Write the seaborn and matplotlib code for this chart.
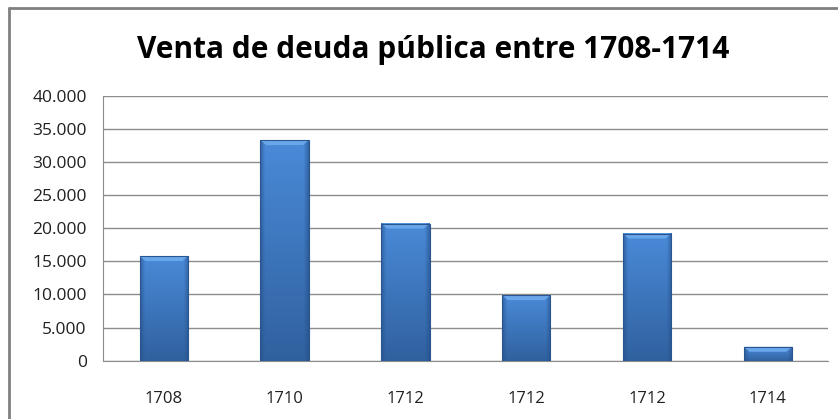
import matplotlib.pyplot as plt
import matplotlib.colors as mcolors
from matplotlib.lines import Line2D
import numpy as np
import pandas as pd
import seaborn as sns

# data
years = ["1708", "1710", "1712", "1712", "1712", "1714"]
ventas = [15800, 33300, 20700, 9900, 19200, 2100]
yticks = [0, 5000, 10000, 15000, 20000, 25000, 30000, 35000, 40000]
titulo = "Venta de deuda pública entre 1708-1714"

df = pd.DataFrame({"pos": [str(i) for i in range(len(years))], "venta": ventas})

sns.set_style("white")
plt.rcParams["font.family"] = ["Open Sans", "DejaVu Sans"]

fig = plt.figure(figsize=(8.38, 4.19), dpi=100)
ax = fig.add_axes([0.1233, 0.1391, 0.8652, 0.6325])

sns.barplot(data=df, x="pos", y="venta", color="#3b78c4", width=0.4,
            saturation=1, ax=ax, zorder=3)

# gradient + bevel look for each bar (Excel style)
top_c = np.array(mcolors.to_rgb("#4a8ad8"))
bot_c = np.array(mcolors.to_rgb("#30619f"))
edge_c = np.array(mcolors.to_rgb("#25508a"))
for p in ax.patches:
    x0, y0 = p.get_x(), p.get_y()
    w, h = p.get_width(), p.get_height()
    ny, nx = 60, 40
    t = np.linspace(0, 1, ny)[:, None, None]          # 0 top -> 1 bottom
    s = np.linspace(-1, 1, nx)[None, :, None]
    body = top_c * (1 - t) + bot_c * t
    side = np.clip((np.abs(s) - 0.8) / 0.2, 0, 1)
    img = body * (1 - 0.6 * side) + edge_c * 0.6 * side
    ax.imshow(img, extent=[x0, x0 + w, y0, y0 + h], aspect="auto",
              origin="upper", zorder=3, clip_path=p, clip_on=True,
              interpolation="bilinear")
    # light bevel on top
    bev = min(h * 0.5, 750)
    ax.fill([x0, x0 + w, x0 + w * 0.88, x0 + w * 0.12],
            [y0 + h, y0 + h, y0 + h - bev, y0 + h - bev],
            color="#6aa6ea", zorder=4, lw=0)
    p.set_facecolor("none")
    p.set_edgecolor("#2a5690")
    p.set_linewidth(0.8)
    p.set_zorder(5)

ax.set_ylim(0, 40000)
ax.set_xlim(-0.5, len(years) - 0.5)
ax.set_yticks(yticks)
ax.set_yticklabels([f"{v:,}".replace(",", ".") for v in yticks])
ax.set_xticks(range(len(years)))
ax.set_xticklabels(years)
ax.set_xlabel("")
ax.set_ylabel("")

ax.yaxis.grid(True, color="#8c8c8c", linewidth=1.0, zorder=0)
ax.set_axisbelow(True)
for side in ["top", "right"]:
    ax.spines[side].set_visible(False)
ax.spines["left"].set_color("#8c8c8c")
ax.spines["bottom"].set_color("#8c8c8c")

ax.tick_params(axis="y", length=5, color="#8c8c8c", labelsize=12.5,
               labelcolor="#202020", pad=7)
ax.tick_params(axis="x", length=0, labelsize=12, labelcolor="#202020", pad=22)
# tick marks between categories on the x axis
ax.set_xticks(np.arange(-0.5, len(years)), minor=True)
ax.tick_params(axis="x", which="minor", length=5, color="#8c8c8c", direction="out")

fig.text(0.517, 0.88, titulo, ha="center", va="center", fontsize=21.5,
         fontweight="bold", color="black")

# outer frame of the chart
fig.add_artist(Line2D([8.5 / 838, 8.5 / 838], [0, 1 - 8.5 / 419],
                      color="#808080", lw=2, transform=fig.transFigure))
fig.add_artist(Line2D([8.5 / 838, 1], [1 - 8.5 / 419, 1 - 8.5 / 419],
                      color="#808080", lw=2, transform=fig.transFigure))

fig.savefig("out.png", dpi=100)
